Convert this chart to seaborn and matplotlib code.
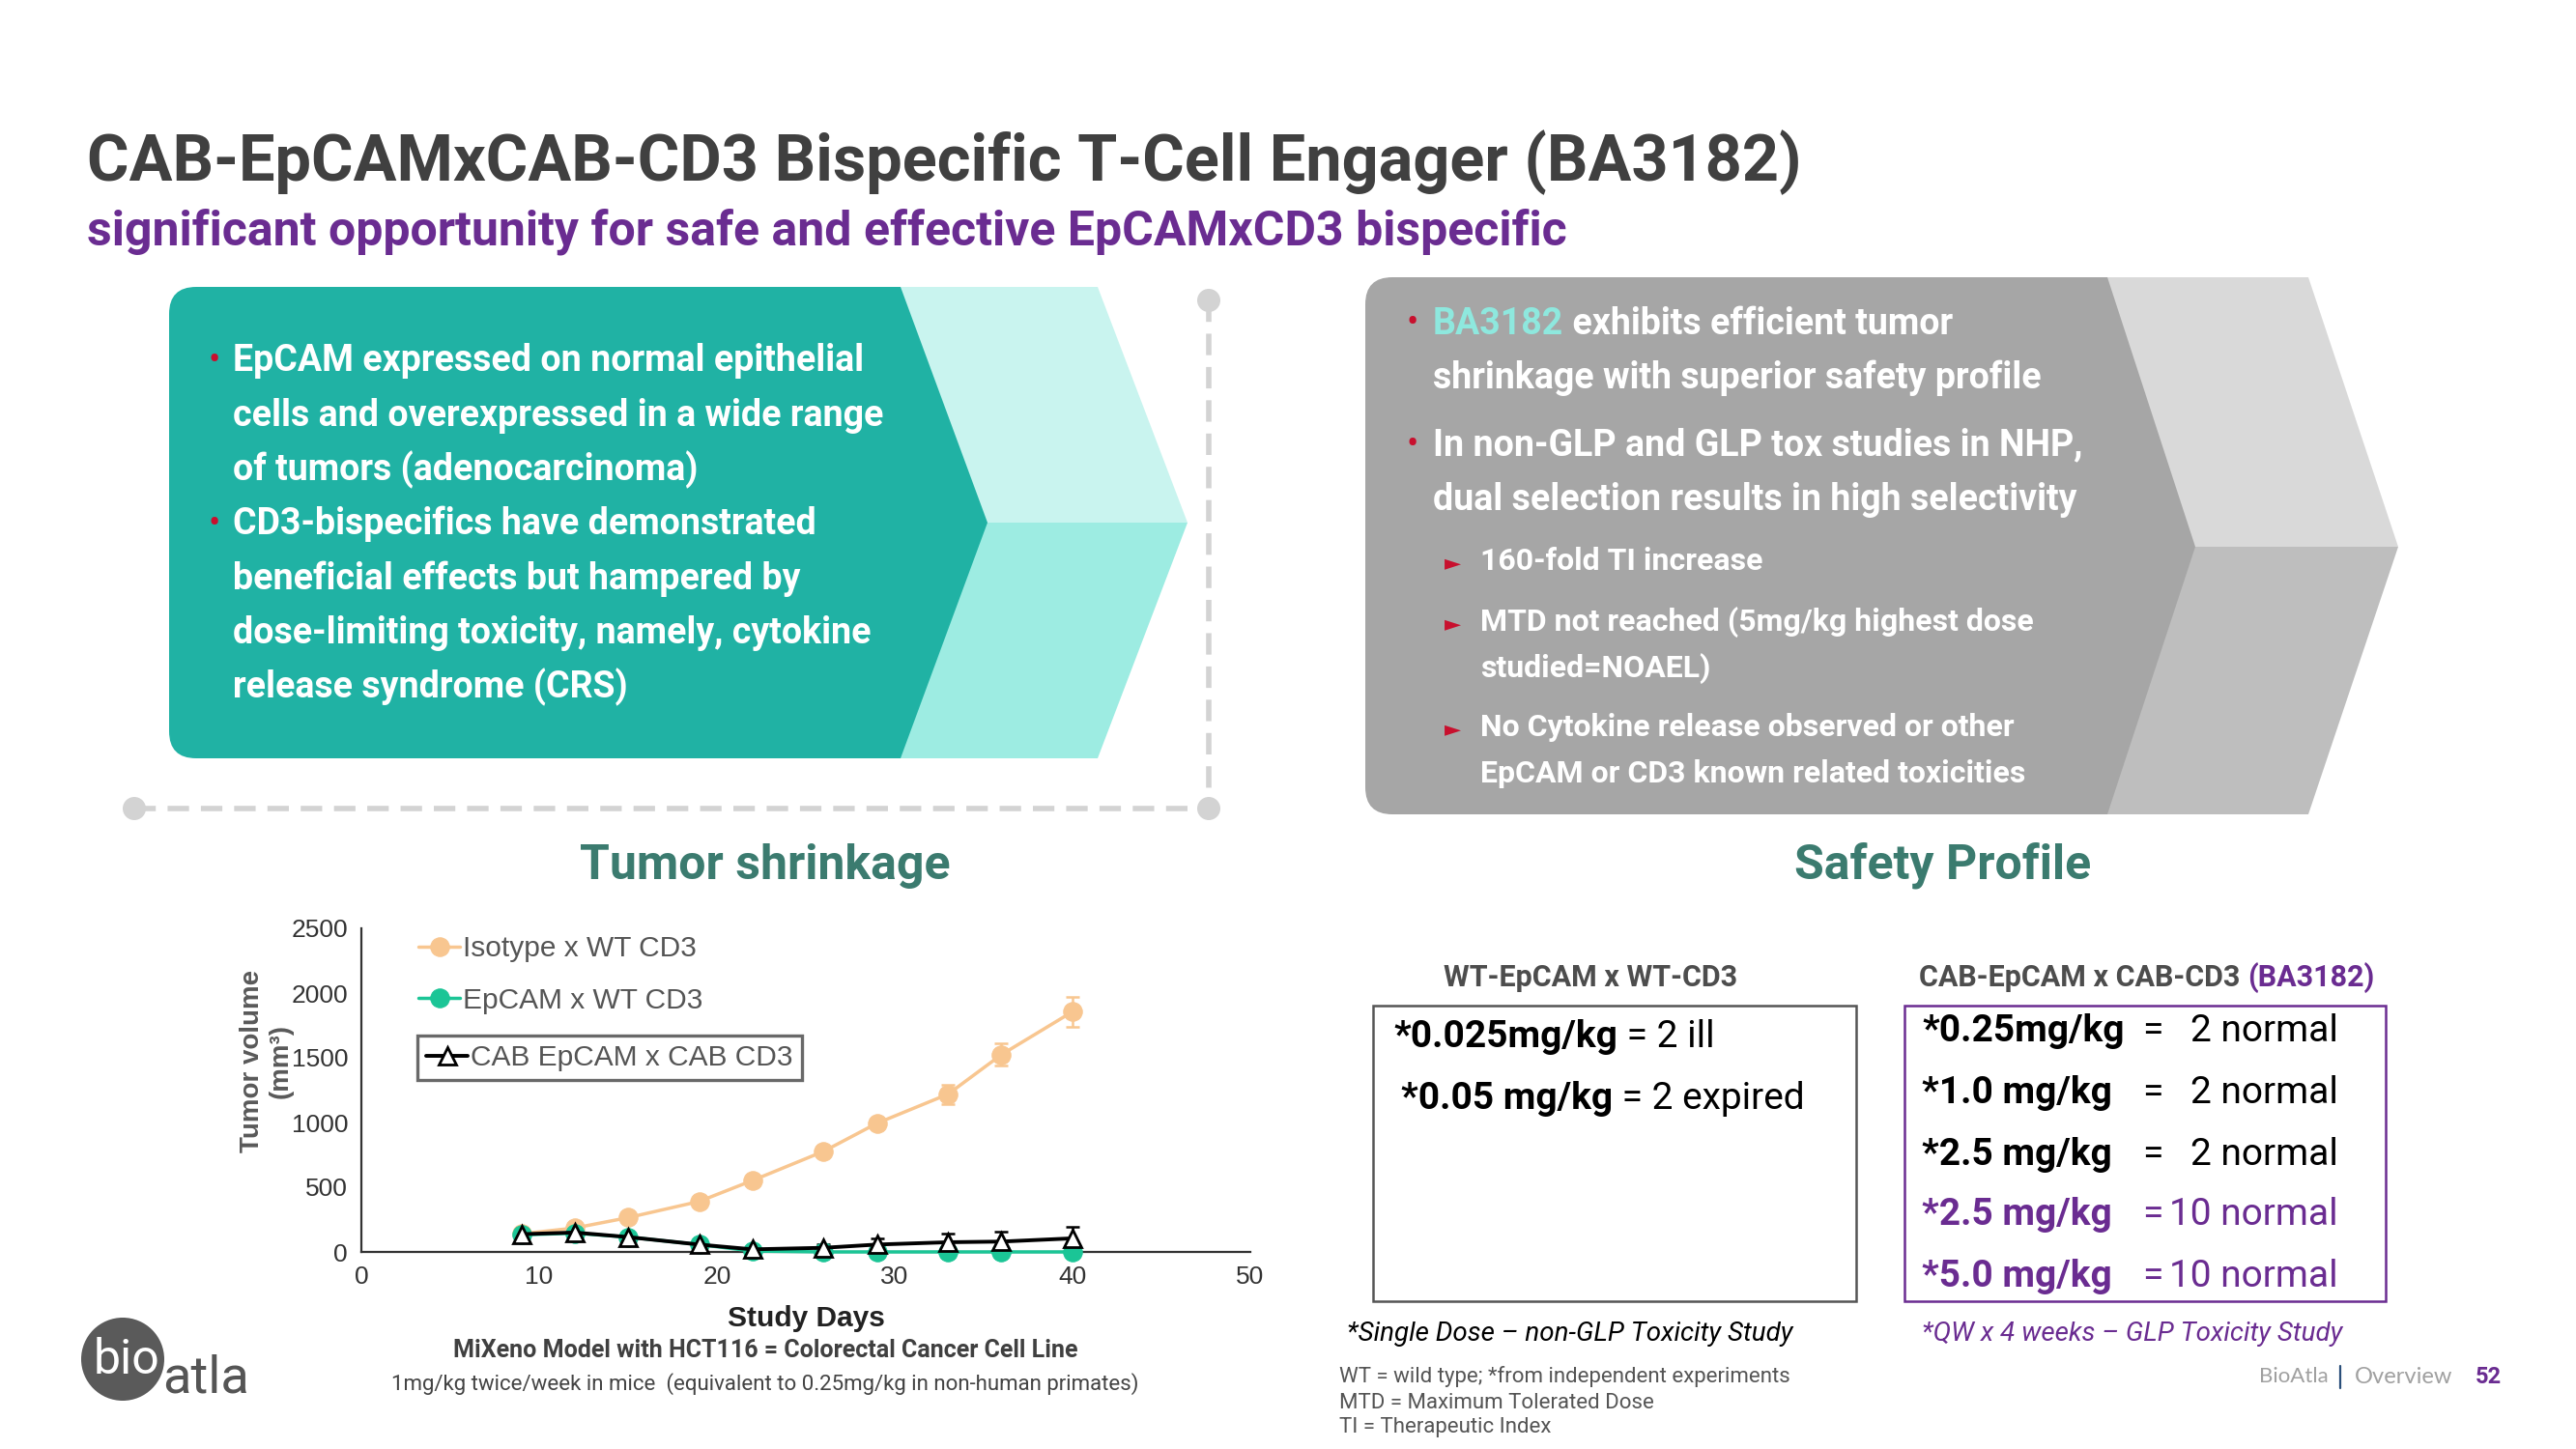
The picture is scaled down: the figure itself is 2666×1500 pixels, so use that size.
import matplotlib
matplotlib.use('Agg')
import matplotlib.pyplot as plt
import seaborn as sns
from matplotlib.patches import Polygon, FancyBboxPatch, Rectangle, Circle

# tumour volume (mm3) per study day
days = [9, 12, 15, 19, 22, 26, 29, 33, 36, 40]
isotype = [140, 185, 265, 390, 552, 777, 994, 1219, 1524, 1856]
isotype_err = [15, 20, 20, 25, 30, 35, 35, 75, 85, 115]
epcam_wt = [132, 145, 115, 57, 7, 0, 0, 0, 0, 0]
epcam_wt_err = [15, 15, 15, 15, 5, 0, 0, 0, 0, 0]
cab = [137, 150, 115, 57, 20, 32, 57, 75, 80, 105]
cab_err = [15, 20, 15, 20, 15, 25, 45, 70, 77, 90]
series_names = ['Isotype x WT CD3', 'EpCAM x WT CD3', 'CAB EpCAM x CAB CD3']
x_ticks = [0, 10, 20, 30, 40, 50]
y_ticks = [0, 500, 1000, 1500, 2000, 2500]

# safety tables
wt_doses = ['*0.025mg/kg', '*0.05 mg/kg']
wt_outcomes = [' = 2 ill', ' = 2 expired']
cab_doses = ['*0.25mg/kg', '*1.0 mg/kg', '*2.5 mg/kg', '*2.5 mg/kg', '*5.0 mg/kg']
cab_outcomes = ['2 normal', '2 normal', '2 normal', '10 normal', '10 normal']
cab_glp = [False, False, False, True, True]

left_lines = ['EpCAM expressed on normal epithelial', 'cells and overexpressed in a wide range',
              'of tumors (adenocarcinoma)', 'CD3-bispecifics have demonstrated',
              'beneficial effects but hampered by', 'dose-limiting toxicity, namely, cytokine',
              'release syndrome (CRS)']
left_bullet = [True, False, False, True, False, False, False]
right_main = ['BA3182 exhibits efficient tumor', 'shrinkage with superior safety profile',
              'In non-GLP and GLP tox studies in NHP,', 'dual selection results in high selectivity']
right_main_bullet = [True, False, True, False]
right_sub = ['160-fold TI increase', 'MTD not reached (5mg/kg highest dose', 'studied=NOAEL)',
             'No Cytokine release observed or other', 'EpCAM or CD3 known related toxicities']
right_sub_arrow = [True, True, False, True, False]

TEAL = '#20B2A4'
TEAL_L1 = '#C9F4EF'
TEAL_L2 = '#9DECE2'
GREY = '#A6A6A6'
GREY_L1 = '#D9D9D9'
GREY_L2 = '#BEBEBE'
PURPLE = '#6A2C91'
RED = '#C8102E'
HEAD = '#3B7B6F'
ORANGE = '#F8C690'
GREEN = '#1BC596'

sns.set_style('white')
plt.rcParams['font.family'] = ['Roboto', 'DejaVu Sans']

fig = plt.figure(figsize=(26.66, 15), dpi=100)
ov = fig.add_axes([0, 0, 1, 1])
ov.set_xlim(0, 2666)
ov.set_ylim(1500, 0)
ov.axis('off')
r = fig.canvas.get_renderer()


def adv(txt, **kw):
    t = ov.text(0, 0, 'x' + txt + 'x', **kw)
    w1 = t.get_window_extent(r).width
    t.remove()
    t = ov.text(0, 0, 'xx', **kw)
    w2 = t.get_window_extent(r).width
    t.remove()
    return w1 - w2


def runs(x, y, parts, **common):
    for txt, kw in parts:
        kk = dict(common)
        kk.update(kw)
        ov.text(x, y, txt, **kk)
        x += adv(txt, **kk)


# title
ov.text(90, 187, 'CAB-EpCAMxCAB-CD3 Bispecific T-Cell Engager (BA3182)', fontsize=48,
        fontweight='bold', color='#404040')
ov.text(90, 253, 'significant opportunity for safe and effective EpCAMxCD3 bispecific',
        fontsize=36, fontweight='bold', color=PURPLE)

# left teal box
ov.add_patch(FancyBboxPatch((175, 297), 860, 488, boxstyle='round,pad=0,rounding_size=28',
                            fc=TEAL, ec='none'))
ov.add_patch(Polygon([(932, 297), (1136, 297), (1229, 541), (1022, 541)], fc=TEAL_L1, ec='none'))
ov.add_patch(Polygon([(1022, 541), (1229, 541), (1136, 785), (932, 785)], fc=TEAL_L2, ec='none'))

# dashed connector
ov.plot([1251, 1251], [311, 837], color='#D3D3D3', lw=4, dashes=(4, 2.2), solid_capstyle='butt')
ov.plot([139, 1251], [837, 837], color='#D3D3D3', lw=4, dashes=(4, 2.2))
for cx, cy in [(1251, 311), (139, 837), (1251, 837)]:
    ov.add_patch(Circle((cx, cy), 12, fc='#D3D3D3', ec='none'))

ly = 374
for line, b in zip(left_lines, left_bullet):
    if b:
        ov.text(216, ly, '•', fontsize=26, color=RED, va='center')
    ov.text(241, ly, line, fontsize=27, fontweight='bold', color='white', va='center')
    ly += 56.2

# right grey box
ov.add_patch(FancyBboxPatch((1413, 287), 880, 556, boxstyle='round,pad=0,rounding_size=28',
                            fc=GREY, ec='none'))
ov.add_patch(Polygon([(2181, 287), (2389, 287), (2482, 566), (2272, 566)], fc=GREY_L1, ec='none'))
ov.add_patch(Polygon([(2272, 566), (2482, 566), (2389, 843), (2181, 843)], fc=GREY_L2, ec='none'))

main_y = [335, 391, 461, 517]
for line, b, yy in zip(right_main, right_main_bullet, main_y):
    if b:
        ov.text(1456, yy, '•', fontsize=26, color=RED, va='center')
    if line.startswith('BA3182'):
        runs(1483, yy, [('BA3182', {'color': '#8EE8DE'}), (line[6:], {'color': 'white'})],
             fontsize=27, fontweight='bold', va='center')
    else:
        ov.text(1483, yy, line, fontsize=27, fontweight='bold', color='white', va='center')

sub_y = [581, 644, 692, 753, 801]
for line, a, yy in zip(right_sub, right_sub_arrow, sub_y):
    if a:
        ov.text(1495, yy + 2, '►', fontsize=16, color=RED, va='center', family='DejaVu Sans')
    ov.text(1532, yy, line, fontsize=23, fontweight='bold', color='white', va='center')

# section headings
ov.text(792, 896, 'Tumor shrinkage', ha='center', va='center', fontsize=36,
        fontweight='bold', color=HEAD)
ov.text(2011, 896, 'Safety Profile', ha='center', va='center', fontsize=36,
        fontweight='bold', color=HEAD)

# tumour chart
ax = fig.add_axes([374 / 2666, 1 - 1296 / 1500, 920 / 2666, 335 / 1500])
ax.patch.set_alpha(0)
cf = 'Liberation Sans'

for yv, err, col in [(isotype, isotype_err, ORANGE), (epcam_wt, epcam_wt_err, GREEN),
                     (cab, cab_err, 'black')]:
    ax.errorbar(days, yv, yerr=err, fmt='none', ecolor=col, elinewidth=1.8, capsize=5,
                capthick=1.8, zorder=2)

sns.lineplot(x=days, y=isotype, ax=ax, color=ORANGE, marker='o', markersize=14,
             markeredgecolor=ORANGE, linewidth=2.5, label=series_names[0], clip_on=False, zorder=3)
sns.lineplot(x=days, y=epcam_wt, ax=ax, color=GREEN, marker='o', markersize=14,
             markeredgecolor=GREEN, linewidth=2.5, label=series_names[1], clip_on=False, zorder=4)
sns.lineplot(x=days, y=cab, ax=ax, color='black', marker='^', markersize=13,
             markerfacecolor='white', markeredgecolor='black', markeredgewidth=2,
             linewidth=2.8, label=series_names[2], clip_on=False, zorder=5)

ax.set_xlim(0, 50)
ax.set_ylim(0, 2500)
ax.set_xticks(x_ticks)
ax.set_yticks(y_ticks)
ax.set_xticklabels([str(v) for v in x_ticks], family=cf)
ax.set_yticklabels([str(v) for v in y_ticks], family=cf)
ax.tick_params(labelsize=19, colors='#333333', length=5, width=1.5, direction='out', pad=5)
sns.despine(ax=ax)
for s in ['left', 'bottom']:
    ax.spines[s].set_color('#333333')
    ax.spines[s].set_linewidth(1.6)

ax.set_ylabel('Tumor volume\n(mm³)', fontsize=20, fontweight='bold', color='#595959',
              family=cf, linespacing=1.15)
ax.yaxis.set_label_coords(-0.077, 0.59)
ax.set_xlabel('Study Days', fontsize=21.5, fontweight='bold', color='#222222', family=cf)
ax.xaxis.set_label_coords(0.5, -0.165)

h, l = ax.get_legend_handles_labels()
if ax.get_legend():
    ax.get_legend().remove()
leg1 = ax.legend(h[:2], l[:2], loc='center left', bbox_to_anchor=(0.064, 0.857), frameon=False,
                 prop={'family': cf, 'size': 21.5}, handlelength=1.45, handletextpad=0.1,
                 labelspacing=0.85, borderpad=0, borderaxespad=0, labelcolor='#555555')
ax.add_artist(leg1)
leg2 = ax.legend(h[2:], l[2:], loc='center left', bbox_to_anchor=(0.063, 0.60), frameon=True,
                 fancybox=False, edgecolor='#444444', prop={'family': cf, 'size': 21.5},
                 handlelength=1.45, handletextpad=0.1, borderpad=0.3, borderaxespad=0,
                 labelcolor='#555555')
leg2.get_frame().set_linewidth(2.4)

ov.text(792, 1398, 'MiXeno Model with HCT116 = Colorectal Cancer Cell Line', ha='center',
        va='center', fontsize=18, fontweight='bold', color='#404040')
ov.text(792, 1433, '1mg/kg twice/week in mice  (equivalent to 0.25mg/kg in non-human primates)',
        ha='center', va='center', fontsize=16, color='#444444')

# logo
ov.add_patch(Circle((127, 1407), 43, fc='#5A5A5A', ec='none'))
ov.text(97, 1422, 'bio', fontsize=36, color='white')
ov.text(168, 1442, 'atla', fontsize=39, color='#555555')

# safety tables
ov.text(1646, 1012, 'WT-EpCAM x WT-CD3', ha='center', va='center', fontsize=22,
        fontweight='bold', color='#4D4D4D')
runs(1986, 1012, [('CAB-EpCAM x CAB-CD3 ', {'color': '#4D4D4D'}), ('(BA3182)', {'color': PURPLE})],
     fontsize=22, fontweight='bold', va='center')
ov.add_patch(Rectangle((1421, 1041), 500, 306, fc='none', ec='#555555', lw=1.8))
ov.add_patch(Rectangle((1971, 1041), 498, 306, fc='none', ec=PURPLE, lw=1.8))

for dose, out, xx, yy in zip(wt_doses, wt_outcomes, [1442, 1450], [1073, 1137]):
    runs(xx, yy, [(dose, {'fontweight': 'bold'}), (out, {})], fontsize=28, color='black', va='center')

row_y = [1068, 1131, 1195, 1258, 1321]
for dose, out, glp, yy in zip(cab_doses, cab_outcomes, cab_glp, row_y):
    c = PURPLE if glp else 'black'
    ov.text(1989, yy, dose, fontsize=28, fontweight='bold', color=c, va='center')
    ov.text(2228, yy, '=', fontsize=28, color=c, va='center', ha='center')
    ov.text(2420, yy, out, fontsize=28, color=c, va='center', ha='right')

ov.text(1394, 1381, '*Single Dose – non-GLP Toxicity Study', fontsize=20, style='italic',
        color='black', va='center')
ov.text(1989, 1381, '*QW x 4 weeks – GLP Toxicity Study', fontsize=20, style='italic',
        color=PURPLE, va='center')

for txt, yy in zip(['WT = wild type; *from independent experiments', 'MTD = Maximum Tolerated Dose',
                    'TI = Therapeutic Index'], [1425, 1452, 1478]):
    ov.text(1386, yy, txt, fontsize=16, color='#555555', va='center')

ov.text(2338, 1425, 'BioAtla', fontsize=16, color='#A0A0A0', va='center', family='Lato')
ov.plot([2422, 2422], [1414, 1437], color='#2A4F7A', lw=1.6)
ov.text(2437, 1425, 'Overview', fontsize=17, color='#A0A0A0', va='center', family='Lato')
ov.text(2562, 1425, '52', fontsize=17, fontweight='bold', color=PURPLE, va='center')

fig.savefig('out.png', dpi=100)
